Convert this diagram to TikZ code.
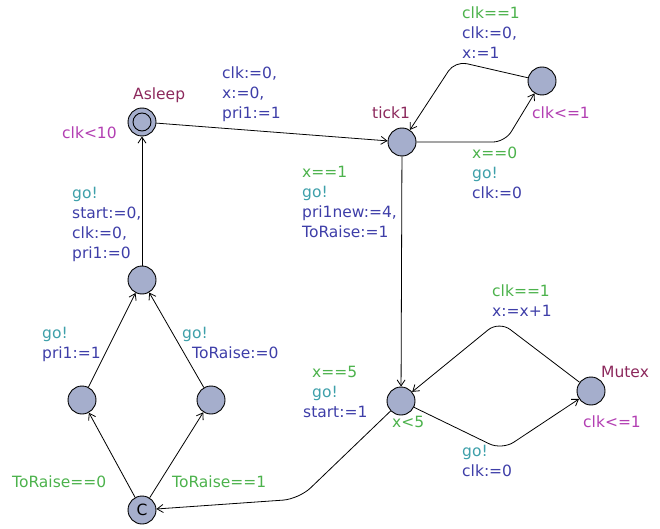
\documentclass[tikz,border=0pt]{standalone}
\usepackage{fontspec}
\setmainfont{DejaVu Sans}
\usetikzlibrary{arrows.meta}

\definecolor{guardcol}{RGB}{76,178,76}
\definecolor{synccol}{RGB}{62,160,170}
\definecolor{updcol}{RGB}{62,62,168}
\definecolor{invcol}{RGB}{178,62,178}
\definecolor{namecol}{RGB}{140,40,92}
\definecolor{locfill}{RGB}{165,174,204}

% one line of an edge or location label
\newcommand\guardtxt[1]{\textcolor{guardcol}{\strut#1}}
\newcommand\synctxt[1]{\textcolor{synccol}{\strut#1}}
\newcommand\updtxt[1]{\textcolor{updcol}{\strut#1}}
\newcommand\invtxt[1]{\textcolor{invcol}{\strut#1}}
\newcommand\nametxt[1]{\textcolor{namecol}{\strut#1}}

\begin{document}
\begin{tikzpicture}[x=1pt, y=-1pt, >={Straight Barb[length=6pt,width=8pt]},
    loc/.style={circle, draw, fill=locfill, minimum size=28pt, inner sep=0pt, line width=0.9pt},
    edge/.style={->, line width=0.8pt},
    lbl/.style={anchor=north west, inner sep=0pt, align=left, font=\fontsize{15.5}{20}\selectfont}
    ]
    \useasboundingbox (0,0) rectangle (660,529);

    % locations
    \node[loc] (asleep) at (142,122) {};
    \draw[line width=0.9pt] (asleep.center) circle (9pt);
    \node[loc] (tick1) at (402,142) {};
    \node[loc] (tick2) at (542,81) {};
    \node[loc] (count) at (401,401) {};
    \node[loc] (mutex) at (591,391) {};
    \node[loc] (ready) at (142,280) {};
    \node[loc] (lowpri) at (82,400) {};
    \node[loc] (raise) at (211,400) {};
    \node[loc, font=\fontsize{15.5}{20}\selectfont] (choose) at (142,510) {C};

    % names and invariants
    \node[lbl] (asleep_name) at (133,85) {\nametxt{Asleep}};
    \node[lbl] (asleep_inv) at (62,124) {\invtxt{clk<10}};
    \node[lbl] (tick1_name) at (372,104) {\nametxt{tick1}};
    \node[lbl] (tick2_inv) at (532,104) {\invtxt{clk<=1}};
    \node[lbl] (count_inv) at (392,413) {\guardtxt{x<5}};
    \node[lbl] (mutex_name) at (601,363) {\nametxt{Mutex}};
    \node[lbl] (mutex_inv) at (583,413) {\invtxt{clk<=1}};

    % edges
    \draw[edge] (asleep) -- (tick1);
    \draw[edge, rounded corners=12pt] (tick1) -- (505,142) -- (tick2);
    \draw[edge, rounded corners=12pt] (tick2) -- (455,61) -- (tick1);
    \draw[edge] (tick1) -- (count);
    \draw[edge, rounded corners=14pt] (count) -- (502,450) -- (mutex);
    \draw[edge, rounded corners=14pt] (mutex) -- (499,321) -- (count);
    \draw[edge, rounded corners=16pt] (count) -- (299,499) -- (choose);
    \foreach \from/\to in {choose/lowpri,choose/raise,lowpri/ready,raise/ready,ready/asleep} {
      \draw[edge] (\from) -- (\to);
    };

    % edge labels
    \node[lbl] (l_wake) at (222,64) {\updtxt{clk:=0,}\\ \updtxt{x:=0,}\\ \updtxt{pri1:=1}};
    \node[lbl] (l_tock) at (462,4) {\guardtxt{clk==1}\\ \updtxt{clk:=0,}\\ \updtxt{x:=1}};
    \node[lbl] (l_tick) at (472,144) {\guardtxt{x==0}\\ \synctxt{go!}\\ \updtxt{clk:=0}};
    \node[lbl] (l_down) at (302,163) {\guardtxt{x==1}\\ \synctxt{go!}\\ \updtxt{pri1new:=4,}\\ \updtxt{ToRaise:=1}};
    \node[lbl] (l_inc) at (492,282) {\guardtxt{clk==1}\\ \updtxt{x:=x+1}};
    \node[lbl] (l_lock) at (462,442) {\synctxt{go!}\\ \updtxt{clk:=0}};
    \node[lbl] (l_start) at (303,363) {\hspace*{9pt}\guardtxt{x==5}\\ \hspace*{9pt}\synctxt{go!}\\ \updtxt{start:=1}};
    \node[lbl] (l_low) at (12,473) {\guardtxt{ToRaise==0}};
    \node[lbl] (l_high) at (172,473) {\guardtxt{ToRaise==1}};
    \node[lbl] (l_pri) at (42,324) {\synctxt{go!}\\ \updtxt{pri1:=1}};
    \node[lbl] (l_raise) at (182,324) {\synctxt{go!}\\ \hspace*{10pt}\updtxt{ToRaise:=0}};
    \node[lbl] (l_sleep) at (72,184) {\synctxt{go!}\\ \updtxt{start:=0,}\\ \updtxt{clk:=0,}\\ \updtxt{pri1:=0}};
\end{tikzpicture}
\end{document}
